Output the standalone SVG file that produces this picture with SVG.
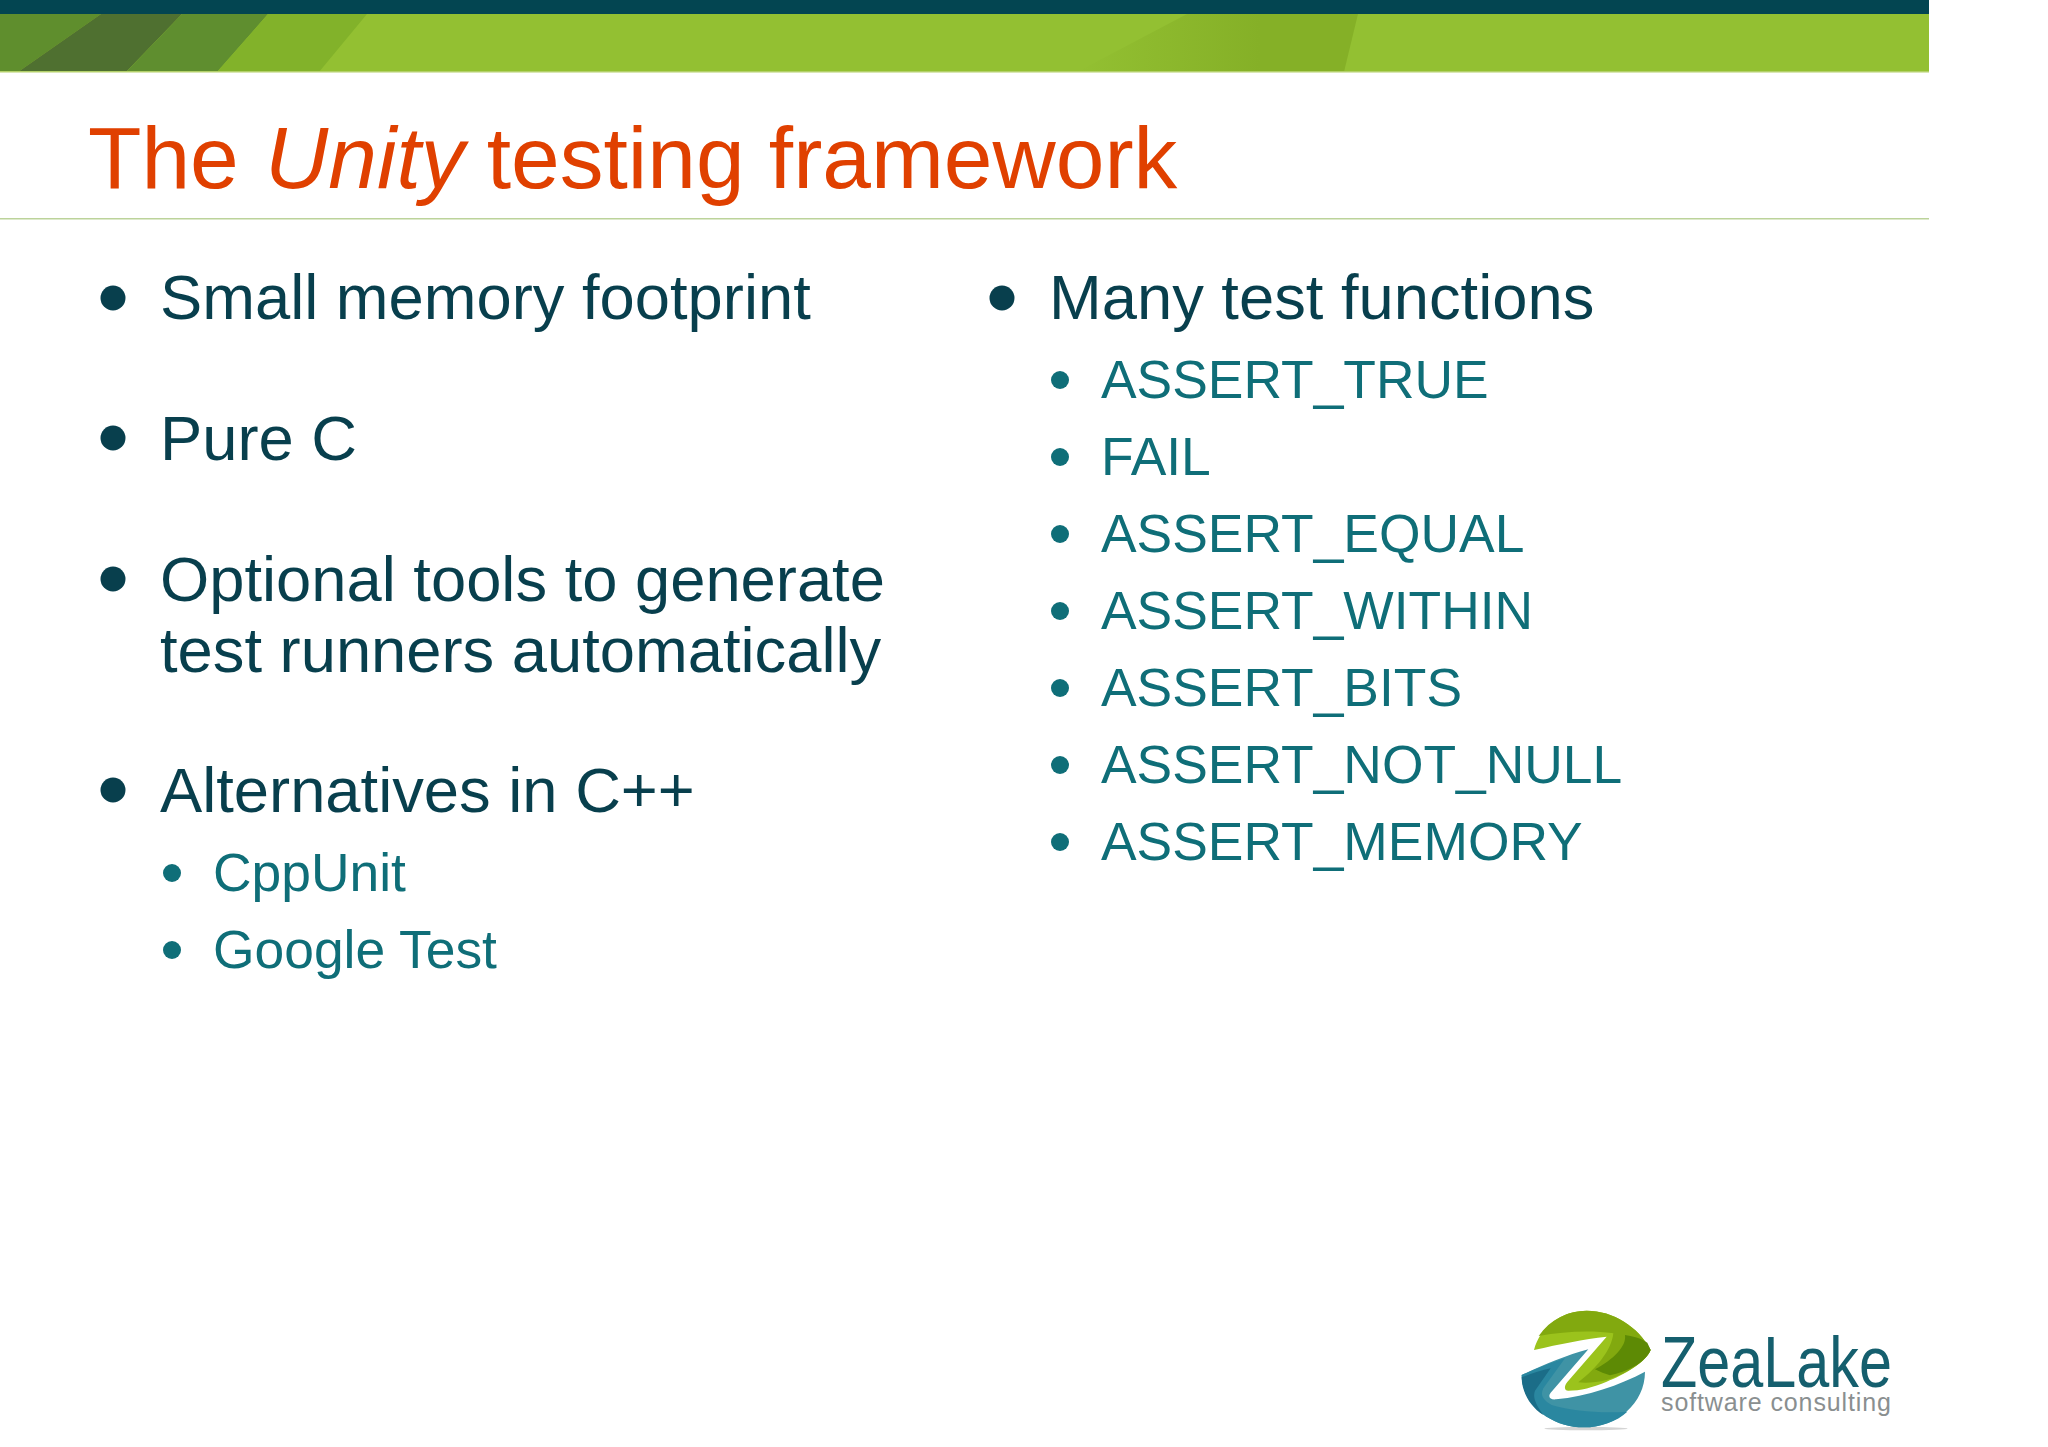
<svg xmlns="http://www.w3.org/2000/svg" width="2048" height="1447" viewBox="0 0 2048 1447">
<style>
text{font-family:"Liberation Sans",Arial,sans-serif}
.t{font-size:87.5px;fill:#e04000}
.a{font-size:63.3px;fill:#083f4d}
.b{font-size:53.4px;fill:#0f6e78}
.da{fill:#083f4d}
.db{fill:#0f6e78}
</style>
<defs>
<linearGradient id="fade" x1="1077" y1="0" x2="1260" y2="0" gradientUnits="userSpaceOnUse"><stop offset="0" stop-color="#93c032"/><stop offset="1" stop-color="#85b027"/></linearGradient>
</defs>
<rect width="2048" height="1447" fill="#fff"/>
<g id="banner">
<rect x="0" y="14" width="1929" height="58" fill="#93c032"/>
<rect x="0" y="0" width="1929" height="14" fill="#034551"/>
<polygon points="0,14 101,14 18,72 0,72" fill="#5f8e2d"/>
<polygon points="101,14 182,14 126,72 18,72" fill="#4f7030"/>
<polygon points="182,14 268,14 217,72 126,72" fill="#5f8e2f"/>
<polygon points="268,14 367,14 319,72 217,72" fill="#82b22a"/>
<polygon points="1187,14 1358,14 1344,72 1077,72" fill="url(#fade)"/>
<rect x="0" y="71" width="1929" height="1.5" fill="#b3d06a"/>
</g>
<rect id="rule" x="0" y="218" width="1929" height="1.5" fill="#bcd39a"/>
<g id="title"><text class="t" x="88" y="188">The <tspan font-style="italic" dx="2">Unity</tspan><tspan dx="-2"> testing framework</tspan></text></g>
<g id="left">
<circle class="da" cx="113" cy="298" r="12.5"/><text class="a" x="160" y="319">Small memory footprint</text>
<circle class="da" cx="113" cy="438" r="12.5"/><text class="a" x="160" y="460">Pure C</text>
<circle class="da" cx="113" cy="579" r="12.5"/><text class="a" x="160" y="601">Optional tools to generate</text><text class="a" x="160" y="672">test runners automatically</text>
<circle class="da" cx="113" cy="790" r="12.5"/><text class="a" x="160" y="812">Alternatives in C++</text>
<circle class="db" cx="172" cy="873" r="9"/><text class="b" x="213" y="891">CppUnit</text>
<circle class="db" cx="172" cy="950" r="9"/><text class="b" x="213" y="968">Google Test</text>
</g>
<g id="right">
<circle class="da" cx="1002" cy="298" r="12.5"/><text class="a" x="1049" y="319">Many test functions</text>
<circle class="db" cx="1060" cy="380" r="9"/><text class="b" x="1101" y="398">ASSERT_TRUE</text>
<circle class="db" cx="1060" cy="457" r="9"/><text class="b" x="1101" y="475">FAIL</text>
<circle class="db" cx="1060" cy="534" r="9"/><text class="b" x="1101" y="552">ASSERT_EQUAL</text>
<circle class="db" cx="1060" cy="611" r="9"/><text class="b" x="1101" y="629">ASSERT_WITHIN</text>
<circle class="db" cx="1060" cy="688" r="9"/><text class="b" x="1101" y="706">ASSERT_BITS</text>
<circle class="db" cx="1060" cy="765" r="9"/><text class="b" x="1101" y="783">ASSERT_NOT_NULL</text>
<circle class="db" cx="1060" cy="842" r="9"/><text class="b" x="1101" y="860">ASSERT_MEMORY</text>
</g>
<g id="logo">
<g transform="translate(1510,1300) scale(0.3333)">
<ellipse cx="228" cy="386" rx="125" ry="5" fill="#d4d4d4"/>
<path d="M72,150 C90,80 155,32 230,32 C310,32 385,80 422,150 C405,190 340,225 290,245 C250,262 210,272 175,272 C162,272 162,258 172,246 L290,110 C220,118 150,132 72,150Z" fill="#9bc31c"/>
<path d="M86,108 C120,58 175,32 230,32 C310,32 385,80 422,150 C405,190 340,225 290,240 C260,247 230,250 205,247 C260,205 305,150 310,100 C240,90 160,95 86,108Z" fill="#82a90f"/>
<path d="M345,105 C365,108 395,115 412,128 L422,150 C405,190 350,215 300,226 C285,222 270,215 255,208 C310,178 350,140 345,105Z" fill="#5d8a05"/>
<path d="M35,225 C100,195 170,165 235,148 L122,278 C112,292 122,300 138,298 C230,290 330,255 405,215 C405,310 320,382 222,382 C120,382 35,310 35,225Z" fill="#3f93a5"/>
<path d="M35,225 C80,205 125,188 165,175 L100,265 C90,285 98,298 125,315 C190,335 280,340 352,335 C320,365 270,382 222,382 C120,382 35,310 35,225Z" fill="#2a87a0"/>
<path d="M35,232 C60,222 95,210 122,205 L75,272 C68,290 75,310 100,345 C60,320 35,275 35,232Z" fill="#1b6d88"/>
</g>
<text x="1661" y="1387" font-size="72" fill="#155f6e" textLength="231" lengthAdjust="spacingAndGlyphs">ZeaLake</text>
<text x="1661" y="1411" font-size="25" fill="#8a8f90" textLength="230" lengthAdjust="spacing">software consulting</text>
</g>
</svg>
